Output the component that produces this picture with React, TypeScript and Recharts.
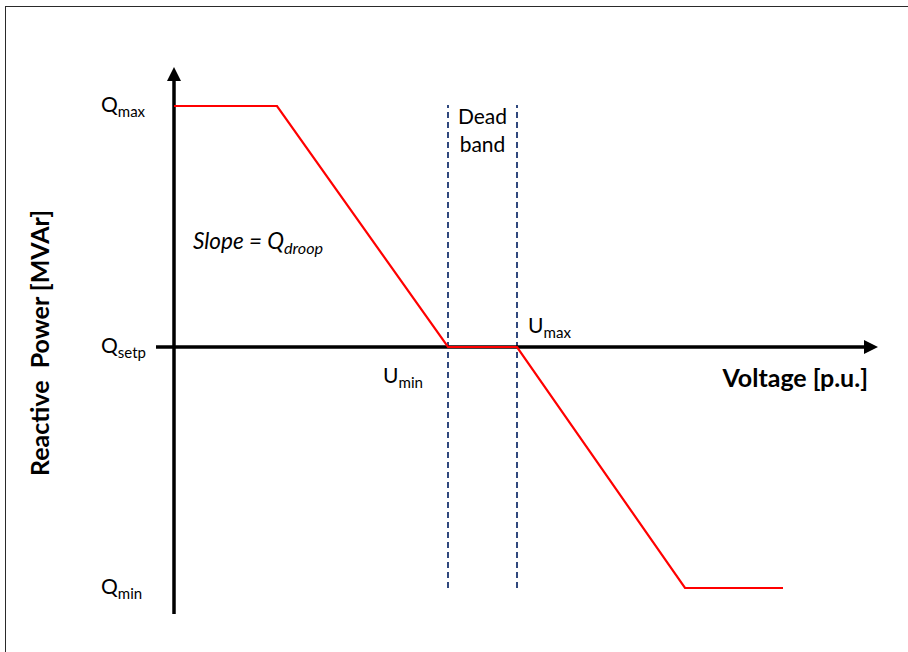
import { Line, LineChart, ReferenceDot, ReferenceLine, XAxis, YAxis } from "recharts";

// droop characteristic, x = voltage (schematic units), y = reactive power
const voltage = [0, 10.3, 27.4, 34.3, 51.1, 60.9];
const reactivePower = [24.1, 24.1, 0, 0, -24.1, -24.1];

const qTicks = [24.1, 0, -24.1];
const qTickNames = ["max", "setp", "min"];

const deadBand = [27.4, 34.3];
const voltageRange = [-1.8, 70.4];
const powerRange = [-26.7, 28];

const data = voltage.map((v, i) => ({ v, q: reactivePower[i] }));

const FONT = "Lato, 'Open Sans', sans-serif";

function Arrow(props: any) {
  const { x1, y1, x2, y2 } = props;
  const len = Math.hypot(x2 - x1, y2 - y1);
  const ux = (x2 - x1) / len;
  const uy = (y2 - y1) / len;
  const head = 14;
  const half = 7;
  const bx = x2 - ux * head;
  const by = y2 - uy * head;
  return (
    <g>
      <line x1={x1} y1={y1} x2={bx} y2={by} stroke="#000" strokeWidth={3.5} />
      <polygon
        points={`${x2},${y2} ${bx - uy * half},${by + ux * half} ${bx + uy * half},${by - ux * half}`}
        fill="#000"
      />
    </g>
  );
}

function QTick(props: any) {
  const { y, payload } = props;
  const name = qTickNames[qTicks.indexOf(payload.value)];
  return (
    <text x={101} y={y + 6} fontFamily={FONT} fontSize={21} fill="#000">
      Q
      <tspan dy={5} fontSize={15}>
        {name}
      </tspan>
    </text>
  );
}

function Note({ cx, cy, dx, dy, main, sub, italic, size = 21 }: any) {
  return (
    <text
      x={cx + dx}
      y={cy + dy}
      fontFamily={FONT}
      fontSize={size}
      fontStyle={italic ? "italic" : "normal"}
      fill="#000"
    >
      {main}
      <tspan dy={5} fontSize={size * 0.72}>
        {sub}
      </tspan>
    </text>
  );
}

export default function App() {
  return (
    <div style={{ position: "absolute", left: 0, top: 0, width: 908, height: 652, background: "#fff" }}>
      <div
        style={{
          position: "absolute",
          left: 5,
          top: 6,
          width: 903,
          height: 646,
          borderLeft: "1.5px solid #2a2a2a",
          borderTop: "1.5px solid #2a2a2a",
        }}
      />
      <div style={{ position: "absolute", left: 0, top: 0 }}>
        <LineChart width={908} height={652} data={data} margin={{ top: 67, right: 30, bottom: 38, left: 36 }}>
          <XAxis dataKey="v" type="number" domain={voltageRange} hide />
          <YAxis
            type="number"
            domain={powerRange}
            ticks={qTicks}
            width={120}
            axisLine={false}
            tickLine={false}
            tick={<QTick />}
            interval={0}
          />
          {deadBand.map((u) => (
            <ReferenceLine
              key={u}
              segment={[
                { x: u, y: -24.1 },
                { x: u, y: 24.2 },
              ]}
              stroke="#1a3570"
              strokeWidth={1.8}
              strokeDasharray="6 4"
            />
          ))}
          <ReferenceLine
            segment={[
              { x: 0, y: powerRange[0] },
              { x: 0, y: powerRange[1] },
            ]}
            shape={<Arrow />}
          />
          <ReferenceLine
            segment={[
              { x: voltageRange[0], y: 0 },
              { x: voltageRange[1], y: 0 },
            ]}
            shape={<Arrow />}
          />
          <Line
            dataKey="q"
            type="linear"
            stroke="#ff0000"
            strokeWidth={2.2}
            dot={false}
            isAnimationActive={false}
          />
          <ReferenceDot
            x={deadBand[0]}
            y={0}
            r={0}
            shape={(p: any) => <Note cx={p.cx} cy={p.cy} dx={-65} dy={36} main="U" sub="min" />}
          />
          <ReferenceDot
            x={deadBand[1]}
            y={0}
            r={0}
            shape={(p: any) => <Note cx={p.cx} cy={p.cy} dx={11} dy={-14} main="U" sub="max" />}
          />
          <ReferenceDot
            x={(deadBand[0] + deadBand[1]) / 2}
            y={24.1}
            r={0}
            shape={(p: any) => (
              <text x={p.cx} y={p.cy} fontFamily={FONT} fontSize={21} textAnchor="middle" fill="#000">
                <tspan x={p.cx} dy={18}>Dead</tspan>
                <tspan x={p.cx} dy={28}>band</tspan>
              </text>
            )}
          />
          <ReferenceDot
            x={0}
            y={0}
            r={0}
            shape={(p: any) => (
              <Note cx={p.cx} cy={p.cy} dx={19} dy={-98} main="Slope = Q" sub="droop" italic size={22.5} />
            )}
          />
          <ReferenceDot
            x={voltageRange[1]}
            y={0}
            r={0}
            shape={(p: any) => (
              <text x={p.cx - 10} y={p.cy + 40} fontFamily={FONT} fontSize={25} fontWeight="bold" textAnchor="end" fill="#000">
                Voltage [p.u.]
              </text>
            )}
          />
          <ReferenceDot
            x={0}
            y={0}
            r={0}
            shape={(p: any) => (
              <text
                x={49}
                y={p.cy - 4}
                transform={`rotate(-90 49 ${p.cy - 4})`}
                fontFamily={FONT}
                fontSize={25}
                fontWeight="bold"
                textAnchor="middle"
                fill="#000"
                style={{ whiteSpace: "pre" }}
              >
                {"Reactive  Power [MVAr]"}
              </text>
            )}
          />
        </LineChart>
      </div>
    </div>
  );
}
